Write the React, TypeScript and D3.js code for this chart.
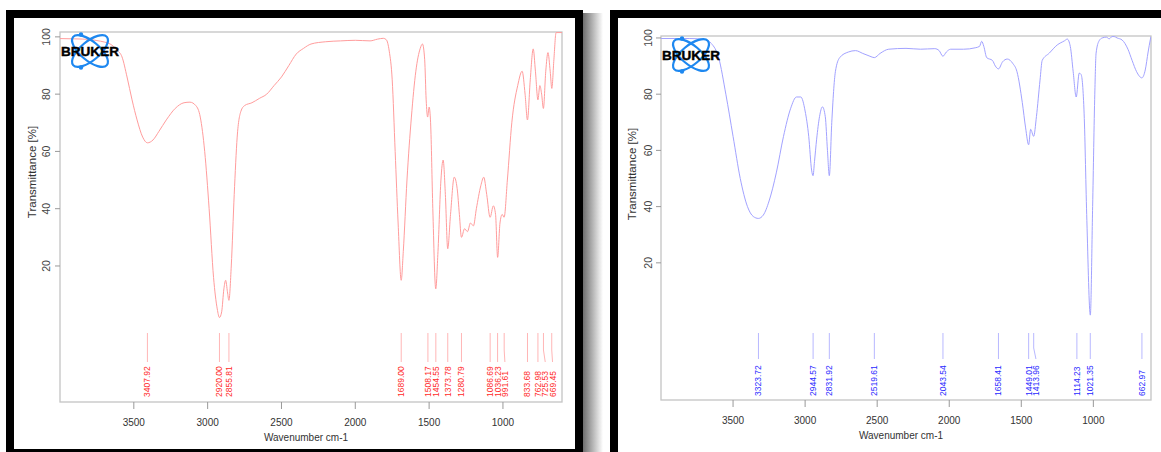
import React from 'react';
import * as d3 from 'd3';

const X_TICKS = [3500, 3000, 2500, 2000, 1500, 1000];
const Y_TICKS = [20, 40, 60, 80, 100];
const X_TITLE = 'Wavenumber cm-1';
const Y_TITLE = 'Transmittance [%]';
const LOGO_TEXT = 'BRUKER';

const LEFT_WN = [4000, 3900, 3800, 3750, 3700, 3660, 3614, 3580, 3546, 3512, 3478, 3440, 3408, 3370, 3330, 3280, 3220, 3160, 3120, 3080, 3050, 3020, 2990, 2960, 2935, 2920, 2905, 2890, 2878, 2866, 2856, 2840, 2820, 2800, 2775, 2750, 2700, 2650, 2600, 2550, 2500, 2450, 2400, 2350, 2300, 2200, 2100, 2000, 1900, 1850, 1810, 1790, 1770, 1750, 1730, 1710, 1689, 1675, 1650, 1620, 1590, 1560, 1545, 1530, 1520, 1510, 1500, 1490, 1475, 1455, 1440, 1420, 1405, 1390, 1374, 1355, 1330, 1310, 1295, 1281, 1260, 1240, 1220, 1200, 1180, 1150, 1130, 1110, 1087, 1065, 1050, 1036, 1020, 1005, 992, 970, 940, 900, 870, 850, 834, 815, 795, 780, 763, 750, 738, 726, 710, 695, 680, 669, 655, 640, 600];
const LEFT_T = [99.4, 99.3, 99.1, 98.7, 98.2, 97.5, 95.4, 93, 86, 78, 71, 65, 63, 64, 67, 71, 75, 77, 77.2, 76, 72, 60, 40, 16, 5, 2, 4, 12, 15, 11, 8, 20, 45, 65, 74, 76, 77, 78.5, 80, 83, 86, 90, 94, 96, 97.5, 98.3, 98.6, 98.8, 98.6, 99.2, 99.5, 99, 95, 85, 60, 35, 15, 25, 50, 72, 88, 96, 97.5, 92, 78, 72, 75.5, 70, 40, 12, 25, 50, 57, 45, 26, 38, 51, 47, 38, 30, 33, 32, 35, 34, 40, 48, 51, 45, 37, 41, 38, 23, 35, 38, 37, 50, 70, 83, 88, 80, 71, 85, 95.8, 88, 78, 83, 80, 75, 88, 94.5, 88, 82, 92, 101.5, 101.5];
const LEFT_PEAKS = ['3407.92', '2920.00', '2855.81', '1689.00', '1508.17', '1454.55', '1373.78', '1280.79', '1086.69', '1036.23', '991.61', '833.68', '762.98', '725.53', '669.45'];

const RIGHT_WN = [4000, 3800, 3700, 3650, 3600, 3550, 3500, 3450, 3400, 3360, 3324, 3290, 3250, 3200, 3150, 3100, 3060, 3030, 3000, 2975, 2955, 2945, 2935, 2920, 2900, 2880, 2860, 2845, 2832, 2815, 2790, 2760, 2700, 2650, 2600, 2550, 2520, 2480, 2420, 2300, 2200, 2100, 2070, 2044, 2020, 1990, 1900, 1820, 1790, 1775, 1760, 1740, 1700, 1680, 1658, 1630, 1597, 1560, 1530, 1493, 1470, 1449, 1435, 1414, 1395, 1370, 1355, 1306, 1251, 1200, 1181, 1160, 1140, 1119, 1098, 1085, 1064, 1045, 1021, 1005, 990, 981, 960, 939, 910, 890, 870, 856, 835, 801, 760, 731, 700, 663, 640, 620, 605, 600];
const RIGHT_T = [99.8, 99.8, 99.5, 98, 93, 80, 65, 50, 40, 36.5, 35.8, 37, 42, 52, 65, 75, 79, 79, 74, 65, 53, 51, 56, 64, 72, 75.5, 72, 60, 51, 70, 88, 93, 95, 95.5, 94.5, 93.5, 93, 94.5, 96, 96.3, 96, 96.2, 95.5, 93.5, 95, 96, 96, 96.5, 97, 98.8, 97, 93, 92, 90, 89, 91.5, 92.5, 91, 88, 77, 68, 62, 67.5, 65, 72, 85, 92, 94.6, 97.5, 99, 99.6, 97, 88, 79, 87.5, 87, 73, 35, 1.4, 40, 80, 94.6, 99, 100, 100.3, 99.7, 100.5, 100.5, 100, 99.3, 96, 92, 88, 85.8, 88.6, 95, 99.3, 100.5];
const RIGHT_PEAKS = ['3323.72', '2944.57', '2831.92', '2519.61', '2043.54', '1658.41', '1449.01', '1413.96', '1114.23', '1021.35', '662.97'];

type PanelCfg = {
  x0: number; x1: number; y0: number; y1: number;
  yTop: number; yBot: number;
  yLabelX: number; yTitleX: number; yTitleY: number;
  tickLabelY: number; xTitleY: number;
  pTop: number; pBend: number; pBottom: number; pText: number;
  logoTX: number; logoTY: number; logoCX: number; logoCY: number;
  curve: string; peakText: string; peakLine: string;
  wn: number[]; t: number[]; peaks: string[]; id: string;
};

const FONT = '"Liberation Sans", Arial, sans-serif';

function Panel({ c }: { c: PanelCfg }) {
  const x = d3.scaleLinear().domain([4000, 600]).range([c.x0, c.x1]);
  const y = d3.scaleLinear().domain([c.yBot, c.yTop]).range([c.y1, c.y0]);
  const pts = c.wn.map((w, i) => [w, c.t[i]] as [number, number]);
  const line = d3.line<[number, number]>().x(d => x(d[0])).y(d => y(d[1])).curve(d3.curveMonotoneX);
  const path = line(pts) || '';
  // label declutter
  const labelX: number[] = [];
  c.peaks.forEach((p, i) => {
    const lx = x(+p);
    labelX.push(i === 0 ? lx : Math.max(lx, labelX[i - 1] + 7.3));
  });
  const clipId = 'clip-' + c.id;
  return (
    <g>
      <defs>
        <clipPath id={clipId}>
          <rect x={c.x0} y={c.y0} width={c.x1 - c.x0} height={c.y1 - c.y0} />
        </clipPath>
      </defs>
      <rect x={c.x0} y={c.y0} width={c.x1 - c.x0} height={c.y1 - c.y0} fill="#fff" stroke="#c4c4c4" strokeWidth={1.3} />
      {Y_TICKS.map(v => (
        <g key={'yt' + v}>
          <line x1={c.x0 - 5} x2={c.x0} y1={y(v)} y2={y(v)} stroke="#999" strokeWidth={1} />
          <text x={c.yLabelX} y={y(v)} transform={`rotate(-90 ${c.yLabelX} ${y(v)})`} textAnchor="middle" fontFamily={FONT} fontSize={10.5} fill="#444">{v}</text>
        </g>
      ))}
      <text x={c.yTitleX} y={c.yTitleY} transform={`rotate(-90 ${c.yTitleX} ${c.yTitleY})`} textAnchor="middle" fontFamily={FONT} fontSize={11.5} fill="#333">{Y_TITLE}</text>
      {X_TICKS.map(v => (
        <g key={'xt' + v}>
          <line x1={x(v)} x2={x(v)} y1={c.y1} y2={c.y1 + 7} stroke="#999" strokeWidth={1} />
          <text x={x(v)} y={c.tickLabelY} textAnchor="middle" fontFamily={FONT} fontSize={10} fill="#333">{v}</text>
        </g>
      ))}
      <text x={(c.x0 + c.x1) / 2 - 5} y={c.xTitleY} textAnchor="middle" fontFamily={FONT} fontSize={10} fill="#333">{X_TITLE}</text>
      <path d={path} fill="none" stroke={c.curve} strokeWidth={1} clipPath={`url(#${clipId})`} />
      {c.peaks.map((p, i) => {
        const lx = x(+p);
        const tx = labelX[i];
        return (
          <g key={'pk' + p}>
            <path d={`M${lx},${c.pTop}L${lx},${c.pBend}L${tx},${c.pBottom}`} fill="none" stroke={c.peakLine} strokeWidth={1} />
            <text x={tx + 3} y={c.pText} transform={`rotate(-90 ${tx + 3} ${c.pText})`} textAnchor="start" fontFamily={FONT} fontSize={8.5} fill={c.peakText}>{p}</text>
          </g>
        );
      })}
      <g>
        <ellipse cx={c.logoCX} cy={c.logoCY} rx={22} ry={9.5} transform={`rotate(40 ${c.logoCX} ${c.logoCY})`} fill="none" stroke="#1e88f0" strokeWidth={2.2} />
        <ellipse cx={c.logoCX} cy={c.logoCY} rx={22} ry={9.5} transform={`rotate(-40 ${c.logoCX} ${c.logoCY})`} fill="none" stroke="#1e88f0" strokeWidth={2.2} />
        <circle cx={c.logoCX - 9} cy={c.logoCY - 16.5} r={2.2} fill="#1e88f0" />
        <circle cx={c.logoCX - 9} cy={c.logoCY + 16.5} r={2.2} fill="#1e88f0" />
        <text x={c.logoTX} y={c.logoTY} fontFamily={FONT} fontWeight={900} fontSize={13} fill="#000" stroke="#000" strokeWidth={0.4} textLength={58} lengthAdjust="spacingAndGlyphs">{LOGO_TEXT}</text>
      </g>
    </g>
  );
}

const LEFT: PanelCfg = {
  x0: 60, x1: 562, y0: 32, y1: 402, yTop: 101.7, yBot: -27.5,
  yLabelX: 50, yTitleX: 36, yTitleY: 172, tickLabelY: 426, xTitleY: 441,
  pTop: 333, pBend: 350, pBottom: 362, pText: 397,
  logoTX: 61, logoTY: 55.5, logoCX: 90, logoCY: 51,
  curve: '#ff9c9c', peakText: '#ff2a2a', peakLine: '#ffb6b6',
  wn: LEFT_WN, t: LEFT_T, peaks: LEFT_PEAKS, id: 'l',
};

const RIGHT: PanelCfg = {
  x0: 661, x1: 1151, y0: 36, y1: 400, yTop: 100.7, yBot: -28.8,
  yLabelX: 652, yTitleX: 636, yTitleY: 174, tickLabelY: 424, xTitleY: 439,
  pTop: 333, pBend: 348, pBottom: 359, pText: 396,
  logoTX: 662, logoTY: 59.5, logoCX: 691, logoCY: 55,
  curve: '#a2a2ff', peakText: '#2a2aff', peakLine: '#b8b8ff',
  wn: RIGHT_WN, t: RIGHT_T, peaks: RIGHT_PEAKS, id: 'r',
};

export default function App() {
  return (
    <svg width={1161} height={452} style={{ position: 'absolute', left: 0, top: 0, background: '#fff' }}>
      <defs>
        <linearGradient id="shadow" x1="0" x2="1" y1="0" y2="0">
          <stop offset="0" stopColor="#6e6e6e" />
          <stop offset="1" stopColor="#ffffff" />
        </linearGradient>
      </defs>
      <rect x={0} y={0} width={1161} height={452} fill="#fff" />
      <rect x={583} y={13} width={20} height={439} fill="url(#shadow)" />
      <rect x={10} y={14} width={569} height={439} fill="#fff" stroke="#000" strokeWidth={8} />
      <rect x={614} y={14} width={560} height={450} fill="#fff" stroke="#000" strokeWidth={8} />
      <Panel c={LEFT} />
      <Panel c={RIGHT} />
    </svg>
  );
}
